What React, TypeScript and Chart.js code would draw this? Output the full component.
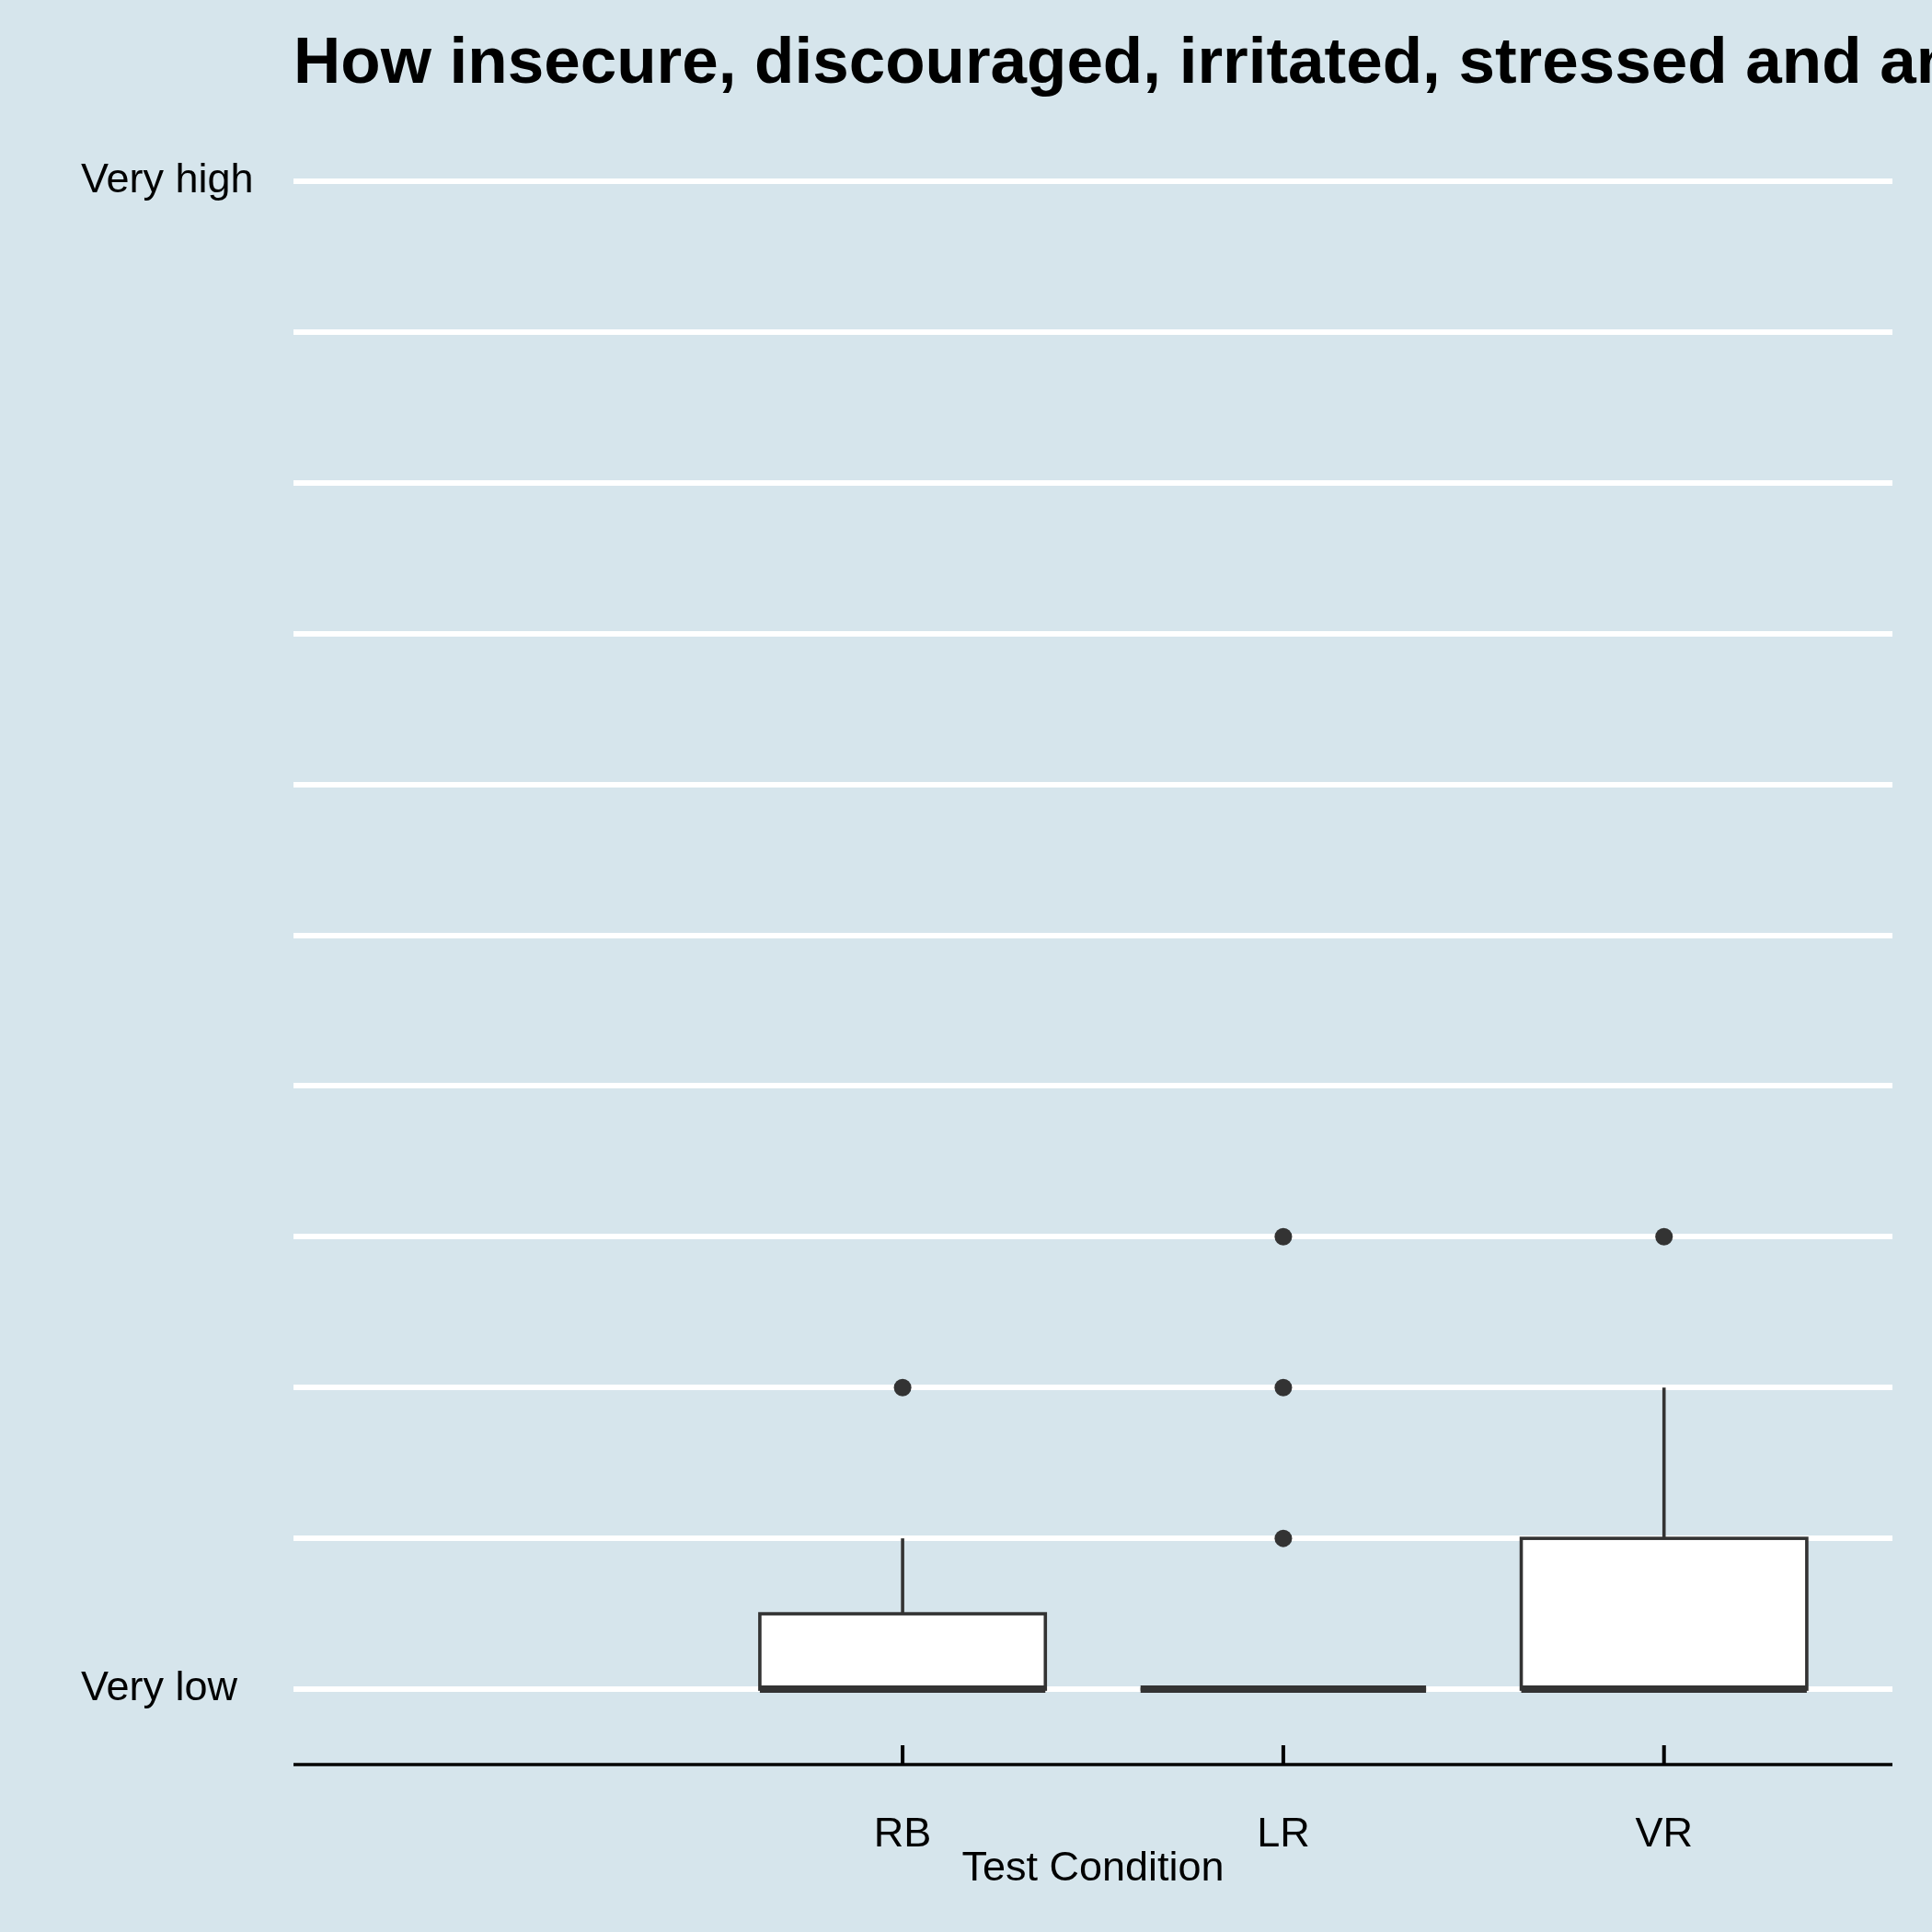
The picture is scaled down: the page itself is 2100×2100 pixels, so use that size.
import React, { useEffect, useRef } from "react";
import { Chart, registerables } from "chart.js";
Chart.register(...registerables);

const categories = ["RB", "LR", "VR"];
const positions = [1, 2, 3];
const q1 = [1, 1, 1];
const median = [1, 1, 1];
const q3 = [1.5, 1, 2];
const whiskerLow = [1, 1, 1];
const whiskerHigh = [2, 1, 3];
const outliers = [
  { x: 1, y: 3 },
  { x: 2, y: 2 },
  { x: 2, y: 3 },
  { x: 2, y: 4 },
  { x: 3, y: 4 },
];
const yTickValues = [1, 2, 3, 4, 5, 6, 7, 8, 9, 10, 11];
const yTickLabels: Record<number, string> = { 1: "Very low", 11: "Very high" };
const title = "How insecure, discouraged, irritated, stressed and annoyed were you?";
const xTitle = "Test Condition";

const BG = "#d6e5ec";
const DARK = "#333333";
const FONT = "Liberation Sans, Arial, sans-serif";

export default function App() {
  const ref = useRef<HTMLCanvasElement>(null);
  useEffect(() => {
    const boxPlugin = {
      id: "boxes",
      beforeDraw(chart: any) {
        const c = chart.ctx;
        c.save();
        c.fillStyle = BG;
        c.fillRect(0, 0, chart.width, chart.height);
        c.restore();
      },
      afterDatasetsDraw(chart: any) {
        const c = chart.ctx;
        const xs = chart.scales.x;
        const ys = chart.scales.y;
        const a = chart.chartArea;
        c.save();
        const half = 0.375;
        positions.forEach((p, i) => {
          const xl = xs.getPixelForValue(p - half);
          const xr = xs.getPixelForValue(p + half);
          const xc = xs.getPixelForValue(p);
          c.strokeStyle = DARK;
          c.lineWidth = 3.6;
          c.beginPath();
          c.moveTo(xc, ys.getPixelForValue(q3[i]));
          c.lineTo(xc, ys.getPixelForValue(whiskerHigh[i]));
          c.moveTo(xc, ys.getPixelForValue(q1[i]));
          c.lineTo(xc, ys.getPixelForValue(whiskerLow[i]));
          c.stroke();
          const yt = ys.getPixelForValue(q3[i]);
          const yb = ys.getPixelForValue(q1[i]);
          c.fillStyle = "#ffffff";
          c.fillRect(xl, yt, xr - xl, yb - yt);
          c.strokeRect(xl, yt, xr - xl, yb - yt);
          c.lineWidth = 8;
          c.beginPath();
          const ym = ys.getPixelForValue(median[i]);
          c.moveTo(xl, ym);
          c.lineTo(xr, ym);
          c.stroke();
        });
        c.fillStyle = DARK;
        outliers.forEach((o) => {
          c.beginPath();
          c.arc(xs.getPixelForValue(o.x), ys.getPixelForValue(o.y), 9.5, 0, Math.PI * 2);
          c.fill();
        });
        c.strokeStyle = "#000";
        c.lineWidth = 3.5;
        c.beginPath();
        c.moveTo(a.left, a.bottom);
        c.lineTo(a.right, a.bottom);
        c.stroke();
        c.lineWidth = 4;
        c.beginPath();
        positions.forEach((p) => {
          const x = xs.getPixelForValue(p);
          c.moveTo(x, a.bottom);
          c.lineTo(x, a.bottom - 21);
        });
        c.stroke();
        c.fillStyle = "#000";
        c.font = `bold 71px ${FONT}`;
        c.textBaseline = "alphabetic";
        c.textAlign = "left";
        c.fillText(title, a.left, 90);
        c.font = `45px ${FONT}`;
        c.textAlign = "center";
        c.fillText(xTitle, (a.left + a.right) / 2, 2044);
        c.restore();
      },
    };
    const chart = new Chart(ref.current!, {
      type: "scatter",
      data: { datasets: [{ data: [], pointRadius: 0 }] },
      options: {
        animation: false,
        responsive: false,
        layout: { padding: { left: 88, right: 43, top: 115, bottom: 0 } },
        plugins: { legend: { display: false }, tooltip: { enabled: false } },
        scales: {
          x: {
            type: "linear",
            min: -0.6,
            max: 3.6,
            afterBuildTicks: (s: any) => {
              s.ticks = positions.map((v) => ({ value: v }));
            },
            afterFit: (s: any) => {
              s.height = 182;
            },
            grid: { display: false },
            border: { display: false },
            ticks: {
              padding: 42,
              color: "#000",
              font: { family: FONT, size: 45 },
              callback: (v: any) => categories[positions.indexOf(Number(v))] ?? "",
            },
          },
          y: {
            min: 0.5,
            max: 11.5,
            afterBuildTicks: (s: any) => {
              s.ticks = yTickValues.map((v) => ({ value: v }));
            },
            afterFit: (s: any) => {
              s.width = 231;
            },
            grid: { color: "#ffffff", lineWidth: 6, drawTicks: false },
            border: { display: false },
            ticks: {
              crossAlign: "far",
              color: "#000",
              font: { family: FONT, size: 45 },
              callback: (v: any) => yTickLabels[Number(v)] ?? "",
            },
          },
        },
      },
      plugins: [boxPlugin],
    } as any);
    return () => chart.destroy();
  }, []);
  return (
    <div style={{ position: "fixed", left: 0, top: 0, width: 2100, height: 2100 }}>
      <canvas ref={ref} width={2100} height={2100} style={{ width: 2100, height: 2100 }} />
    </div>
  );
}
